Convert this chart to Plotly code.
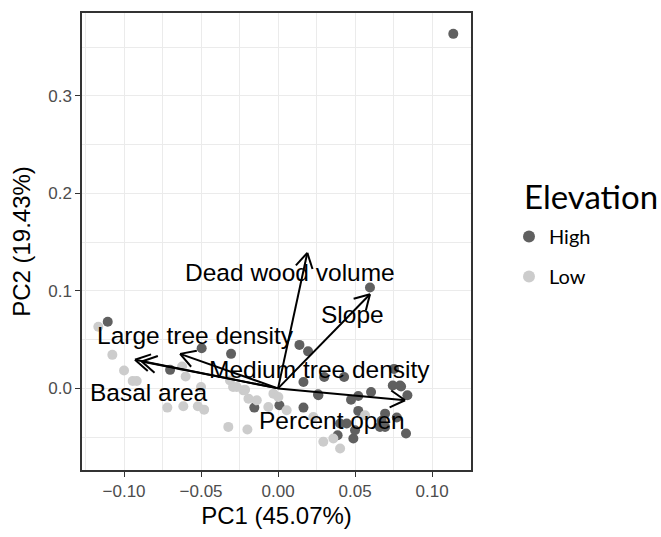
import numpy as np
import plotly.graph_objects as go

# ---------------- data ----------------
high_pc1 = [0.1138, 0.0597, -0.1106, -0.0496, -0.0305, -0.0701, 0.0139, 0.0195, 0.0165, 0.0300,
            0.0429, 0.0753, 0.0745, 0.0799, 0.0840, 0.0604, 0.0521, 0.0474, 0.0260, 0.0009,
            -0.0154, 0.0165, 0.0521, 0.0771, 0.0673, 0.0695, 0.0831, 0.0387, 0.0489, 0.0500,
            0.0446, 0.0403, 0.0662, 0.0262, 0.0695, 0.0792]
high_pc2 = [0.3636, 0.1034, 0.0684, 0.0412, 0.0354, 0.0190, 0.0446, 0.0380, 0.0065, 0.0116,
            0.0116, 0.0200, 0.0030, 0.0020, -0.0071, -0.0037, -0.0078, -0.0116, -0.0061, -0.0173,
            -0.0197, -0.0197, -0.0231, -0.0299, -0.0333, -0.0395, -0.0463, -0.0480, -0.0514, -0.0430,
            -0.0360, -0.0360, -0.0395, -0.0071, -0.0259, 0.0030]

low_pc1 = [-0.1167, -0.1076, -0.1000, -0.0944, -0.0918, -0.0719, -0.0615, -0.0521, -0.0480, -0.0600,
           -0.0623, -0.0500, -0.0312, -0.0292, -0.0225, -0.0192, -0.0138, -0.0063, -0.0030, 0.0002,
           0.0056, -0.0323, -0.0199, 0.0294, 0.0403, 0.0565, 0.0229, 0.0359, -0.0268, -0.0214]
low_pc2 = [0.0633, 0.0344, 0.0184, 0.0075, 0.0075, -0.0197, -0.0184, -0.0184, -0.0218, 0.0122,
           0.0224, 0.0014, 0.0082, 0.0014, -0.0020, -0.0105, -0.0122, -0.0191, -0.0054, -0.0088,
           -0.0224, -0.0395, -0.0422, -0.0548, -0.0616, -0.0276, -0.0293, -0.0514, 0.0014, -0.0014]

var_names = ["Dead wood volume", "Slope", "Large tree density", "Medium tree density",
             "Basal area", "Percent open"]
var_pc1 = [0.0190, 0.0597, -0.0636, -0.0885, -0.0929, 0.0825]
var_pc2 = [0.1390, 0.0966, 0.0354, 0.0276, 0.0293, -0.0122]
label_pc1 = [0.0078, 0.0485, -0.0539, 0.0268, -0.0838, 0.0349]
label_pc2 = [0.1187, 0.0762, 0.0541, 0.0190, -0.0037, -0.0333]

x_tickvals = [-0.10, -0.05, 0.00, 0.05, 0.10]
x_ticktext = ["\u22120.10", "\u22120.05", "0.00", "0.05", "0.10"]
y_tickvals = [0.0, 0.1, 0.2, 0.3]
y_ticktext = ["0.0", "0.1", "0.2", "0.3"]

legend_title = "Elevation"

x_range = [-0.1273, 0.1253]
y_range = [-0.0837, 0.385]

# ---------------- layout geometry ----------------
W, H = 661, 537
ML, MR, MT, MB = 82, 190, 11, 67
pw, ph = W - ML - MR, H - MT - MB
sx = pw / (x_range[1] - x_range[0])
sy = ph / (y_range[1] - y_range[0])

# arrows (shaft + open V head computed in pixel space)
head_len, head_ang = 17.0, np.deg2rad(30)
ax_, ay_ = [], []
for tx, ty in zip(var_pc1, var_pc2):
    ax_ += [0, tx, None]
    ay_ += [0, ty, None]
    dx, dy = -tx * sx, -ty * sy
    n = np.hypot(dx, dy)
    ux, uy = dx / n, dy / n
    for s in (1, -1):
        c, si = np.cos(s * head_ang), np.sin(s * head_ang)
        rx, ry = ux * c - uy * si, ux * si + uy * c
        ax_ += [tx + rx * head_len / sx, tx, None]
        ay_ += [ty + ry * head_len / sy, ty, None]

fig = go.Figure()
fig.add_trace(go.Scatter(x=high_pc1, y=high_pc2, mode="markers", name="High",
                         legendgroup="h",
                         marker=dict(color="#606060", size=10, line=dict(width=0))))
fig.add_trace(go.Scatter(x=low_pc1, y=low_pc2, mode="markers", name="Low",
                         legendgroup="l",
                         marker=dict(color="#CCCCCC", size=10, line=dict(width=0))))
fig.add_trace(go.Scatter(x=ax_, y=ay_, mode="lines", showlegend=False, hoverinfo="skip",
                         line=dict(color="black", width=2)))

for name, lx, ly in zip(var_names, label_pc1, label_pc2):
    fig.add_annotation(x=lx, y=ly, xref="x", yref="y", text=name, showarrow=False,
                       xanchor="center", yanchor="middle",
                       font=dict(family="Liberation Sans, Arial", size=24.5, color="black"))

# legend title
fig.add_annotation(x=(522 - ML) / pw, y=(MT + ph - 195) / ph, xref="paper", yref="paper",
                   text=legend_title, showarrow=False, xanchor="left", yanchor="middle",
                   font=dict(family="Lato", size=33, color="black"))

grid_major = "#EBEBEB"
fig.update_xaxes(range=x_range, tickvals=x_tickvals, ticktext=x_ticktext,
                 showgrid=True, gridcolor=grid_major, gridwidth=1.2,
                 minor=dict(dtick=0.05, tick0=-0.125, showgrid=True, gridcolor=grid_major,
                            gridwidth=0.6, ticklen=0),
                 zeroline=False, showline=True, mirror=True, linecolor="#333333", linewidth=1.5,
                 ticks="outside", ticklen=5, tickcolor="#333333", tickwidth=1.2,
                 tickfont=dict(family="Liberation Sans, Arial", size=17, color="#4D4D4D"),
                 title=dict(text="PC1 (45.07%)", standoff=7,
                            font=dict(family="Liberation Sans, Arial", size=24, color="black")))
fig.update_yaxes(range=y_range, tickvals=y_tickvals, ticktext=y_ticktext,
                 showgrid=True, gridcolor=grid_major, gridwidth=1.2,
                 minor=dict(dtick=0.1, tick0=-0.05, showgrid=True, gridcolor=grid_major,
                            gridwidth=0.6, ticklen=0),
                 zeroline=False, showline=True, mirror=True, linecolor="#333333", linewidth=1.5,
                 ticks="outside", ticklen=5, tickcolor="#333333", tickwidth=1.2,
                 tickfont=dict(family="Liberation Sans, Arial", size=17, color="#4D4D4D"),
                 title=dict(text="PC2 (19.43%)", standoff=11,
                            font=dict(family="Liberation Sans, Arial", size=24, color="black")))

fig.update_layout(
    width=W, height=H, autosize=False,
    margin=dict(l=ML, r=MR, t=MT, b=MB, pad=0),
    plot_bgcolor="white", paper_bgcolor="white",
    legend=dict(font=dict(family="Lato", size=20, color="black"),
                x=(509 - ML) / pw, xanchor="left", y=(MT + ph - 216) / ph, yanchor="top",
                tracegroupgap=11, traceorder="grouped", bgcolor="rgba(0,0,0,0)",
                itemsizing="constant"),
)

fig.write_html("out.html")
